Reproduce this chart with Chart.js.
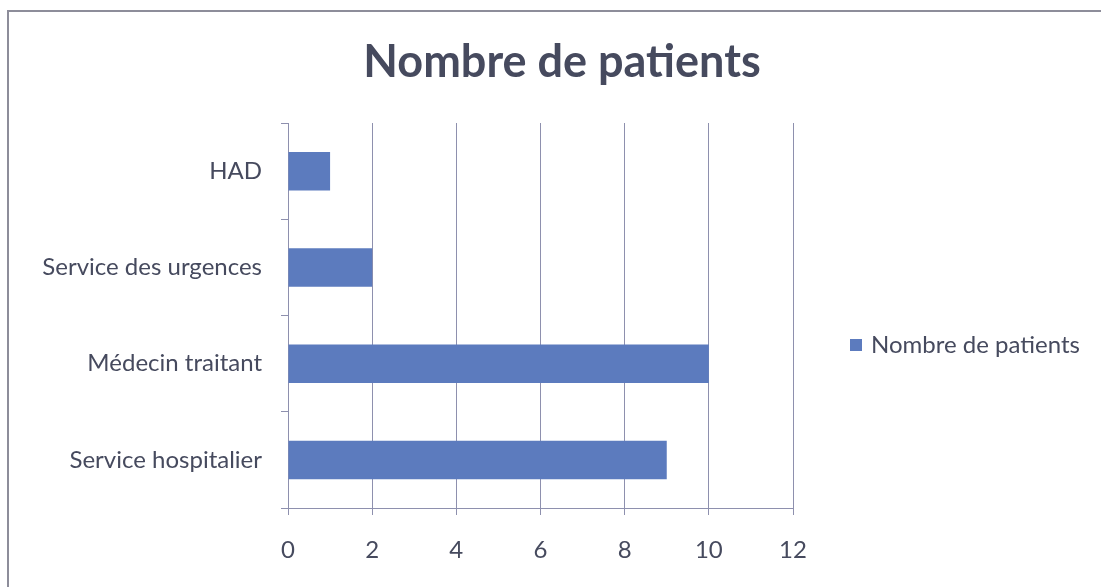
<!DOCTYPE html>
<html>
<head>
<meta charset="utf-8">
<script src="https://cdn.jsdelivr.net/npm/chart.js@4/dist/chart.umd.min.js"></script>
<style>
  html, body { margin: 0; padding: 0; background: #fff; overflow: hidden; }
  #frame { position: absolute; left: 7px; top: 10px; width: 1200px; height: 700px; border: 2px solid #8d8d9a; }
  #wrap { position: absolute; left: 0; top: 0; width: 1101px; height: 587px; }
</style>
</head>
<body>
<div id="frame"></div>
<div id="wrap"><canvas id="barchart" width="1101" height="587"></canvas></div>
<script>
// data
const categories = ['HAD', 'Service des urgences', 'Médecin traitant', 'Service hospitalier'];
const patients = [1, 2, 10, 9];
const seriesName = 'Nombre de patients';

const textColor = '#464a5e';
const gridColor = '#8e90ae';
const barColor = '#5c7bbe';
const font = 'Lato';

// draws the legend box on the right, the way the original has it
const sideLegend = {
  id: 'sideLegend',
  afterDraw(chart) {
    const c = chart.ctx;
    const ds = chart.data.datasets[0];
    c.save();
    c.fillStyle = ds.backgroundColor;
    c.fillRect(850, 339, 12, 12);
    c.fillStyle = textColor;
    c.font = '24px ' + font;
    c.textBaseline = 'middle';
    c.textAlign = 'left';
    c.fillText(ds.label, 871, 345);
    c.restore();
  }
};

const ctx = document.getElementById('barchart').getContext('2d');
let chart = new Chart(ctx, {
  type: 'bar',
  data: {
    labels: categories,
    datasets: [{
      label: seriesName,
      data: patients,
      backgroundColor: barColor,
      borderWidth: 0,
      categoryPercentage: 1,
      barPercentage: 0.4
    }]
  },
  options: {
    indexAxis: 'y',
    responsive: false,
    animation: false,
    layout: { padding: { left: 23, right: 0, top: 0, bottom: 0 } },
    plugins: {
      legend: { display: false },
      tooltip: { enabled: false },
      title: {
        display: true,
        text: seriesName,
        color: textColor,
        font: { family: font, size: 45, weight: 'bold', lineHeight: 1.2 },
        padding: { top: 35, bottom: 34 }
      }
    },
    scales: {
      x: {
        min: 0,
        max: 12,
        ticks: { stepSize: 2, color: textColor, font: { family: font, size: 24 }, padding: 21 },
        grid: { color: gridColor, lineWidth: 1, tickLength: 7 },
        border: { color: gridColor },
        afterFit(scale) { scale.height = 79; }
      },
      y: {
        ticks: { color: textColor, font: { family: font, size: 24 }, padding: 19 },
        grid: { drawOnChartArea: false, color: gridColor, tickLength: 7, offset: true },
        border: { color: gridColor },
        afterFit(scale) { scale.width = 265; }
      },
      // empty space on the right where the legend sits
      spacer: {
        type: 'linear',
        position: 'right',
        display: true,
        ticks: { display: false },
        grid: { display: false },
        border: { display: false },
        afterFit(scale) { scale.width = 308; }
      }
    }
  },
  plugins: [sideLegend]
});
</script>
</body>
</html>
